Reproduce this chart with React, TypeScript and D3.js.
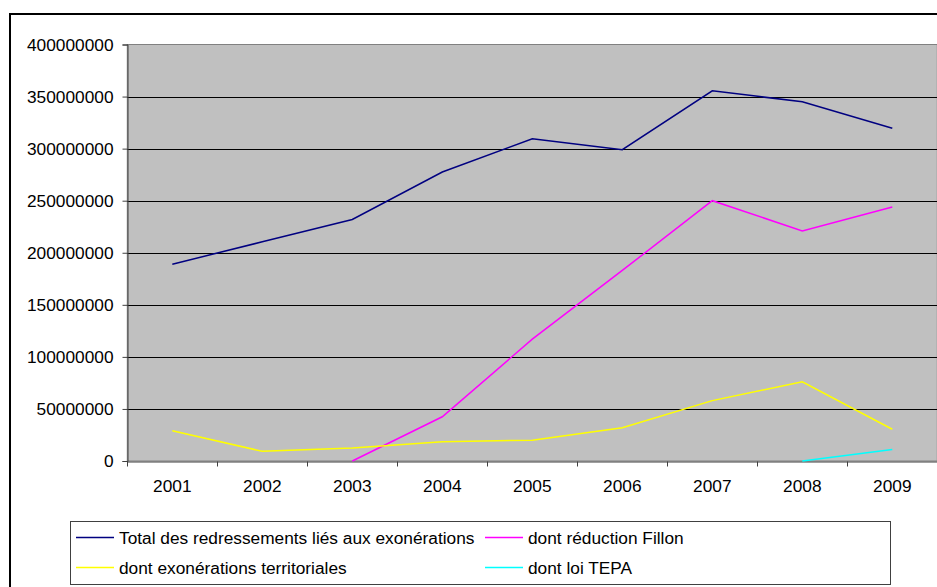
import React, { useEffect, useRef } from "react";
import * as d3 from "d3";

const years = ["2001", "2002", "2003", "2004", "2005", "2006", "2007", "2008", "2009"];

const totalRedressements = [189000000, 210500000, 232000000, 277500000, 309500000, 299000000, 355500000, 345000000, 319500000];
const reductionFillon = [null, null, 0, 42500000, 117000000, 183000000, 250000000, 221000000, 244000000];
const exonerationsTerritoriales = [29000000, 9300000, 12500000, 18500000, 20000000, 32000000, 58000000, 76000000, 30500000];
const loiTepa = [null, null, null, null, null, null, null, 0, 11000000];

const yTicks = [0, 50000000, 100000000, 150000000, 200000000, 250000000, 300000000, 350000000, 400000000];

const seriesNames = [
    "Total des redressements liés aux exonérations",
    "dont réduction Fillon",
    "dont exonérations territoriales",
    "dont loi TEPA",
];
const seriesColors = ["#000080", "#ff00ff", "#ffff00", "#00ffff"];

export default function App() {
    const svgRef = useRef<SVGSVGElement>(null);

    useEffect(() => {
        const svg = d3.select(svgRef.current);
        svg.selectAll("*").remove();

        var w = 937;
        var h = 587;
        var plotLeft = 127.3;
        var plotRight = 937.3;
        var plotTop = 44.5;
        var plotBottom = 461;
        var font = "Arial, 'Liberation Sans', sans-serif";
        var fontSize = 17.3;

        // chart frame
        svg.append("rect")
            .attr("x", 10).attr("y", 14)
            .attr("width", w + 20).attr("height", h + 20)
            .style("fill", "white").style("stroke", "black").style("stroke-width", 2);

        let x = d3.scaleBand().domain(years).range([plotLeft, plotRight]);
        let y = d3.scaleLinear().domain([0, 400000000]).range([plotBottom, plotTop]);

        // plot area
        svg.append("rect")
            .attr("x", plotLeft).attr("y", plotTop)
            .attr("width", plotRight - plotLeft).attr("height", plotBottom - plotTop)
            .style("fill", "#c0c0c0").style("stroke", "#808080").style("stroke-width", 1);

        // gridlines
        svg.append("g").selectAll("line")
            .data(yTicks.filter(t => t > 0 && t < 400000000))
            .enter().append("line")
            .attr("x1", plotLeft).attr("x2", plotRight)
            .attr("y1", d => Math.round(y(d)) + 0.5).attr("y2", d => Math.round(y(d)) + 0.5)
            .style("stroke", "black").style("stroke-width", 1);

        // y axis
        let yAxis = svg.append("g")
            .attr("transform", "translate(" + (Math.round(plotLeft) + 0.5) + ",0)")
            .call(d3.axisLeft(y).tickValues(yTicks).tickSize(5).tickPadding(9).tickFormat(d3.format("d")));
        yAxis.select(".domain").style("stroke", "#404040");
        yAxis.selectAll(".tick line").style("stroke", "#404040");
        yAxis.selectAll("text").style("font-family", font).style("font-size", fontSize + "px").style("fill", "black");

        // x axis
        let xAxis = svg.append("g")
            .attr("transform", "translate(0," + (Math.round(plotBottom) + 0.5) + ")")
            .call(d3.axisBottom(x).tickSize(0).tickPadding(18));
        xAxis.select(".domain").style("stroke", "#404040");
        xAxis.selectAll("text").style("font-family", font).style("font-size", fontSize + "px").style("fill", "black");
        // category boundary ticks
        xAxis.selectAll(".bound")
            .data(years)
            .enter().append("line")
            .attr("class", "bound")
            .attr("x1", d => Math.round(x(d)!) + 0.5).attr("x2", d => Math.round(x(d)!) + 0.5)
            .attr("y1", 0).attr("y2", 5)
            .style("stroke", "#404040");

        // lines
        let allSeries = [totalRedressements, reductionFillon, exonerationsTerritoriales, loiTepa];
        let line = d3.line<number | null>()
            .defined(d => d !== null)
            .x((d, i) => x(years[i])! + x.bandwidth() / 2)
            .y(d => y(d as number));

        svg.append("g").selectAll("path")
            .data(allSeries)
            .enter().append("path")
            .attr("d", d => line(d))
            .style("fill", "none")
            .style("stroke", (d, i) => seriesColors[i])
            .style("stroke-width", 1.5)
            .style("stroke-linejoin", "miter");

        // legend
        let legend = svg.append("g");
        legend.append("rect")
            .attr("x", 70.5).attr("y", 521.5)
            .attr("width", 820).attr("height", 63)
            .style("fill", "white").style("stroke", "#404040").style("stroke-width", 1);

        let legendPos = [
            { lx: 76, ly: 537.5 },
            { lx: 485, ly: 537.5 },
            { lx: 76, ly: 567.5 },
            { lx: 485, ly: 567.5 },
        ];
        let items = legend.selectAll(".item")
            .data(seriesNames)
            .enter().append("g")
            .attr("class", "item")
            .attr("transform", (d, i) => "translate(" + legendPos[i].lx + "," + legendPos[i].ly + ")");
        items.append("line")
            .attr("x1", 0).attr("x2", 38).attr("y1", 0).attr("y2", 0)
            .style("stroke", (d, i) => seriesColors[i]).style("stroke-width", 1.5);
        items.append("text")
            .attr("x", 43).attr("y", 0).attr("dy", ".35em")
            .style("font-family", font).style("font-size", fontSize + "px")
            .text(d => d);
    }, []);

    return (
        <svg ref={svgRef} width={937} height={587} style={{ position: "absolute", left: 0, top: 0, display: "block" }} />
    );
}
